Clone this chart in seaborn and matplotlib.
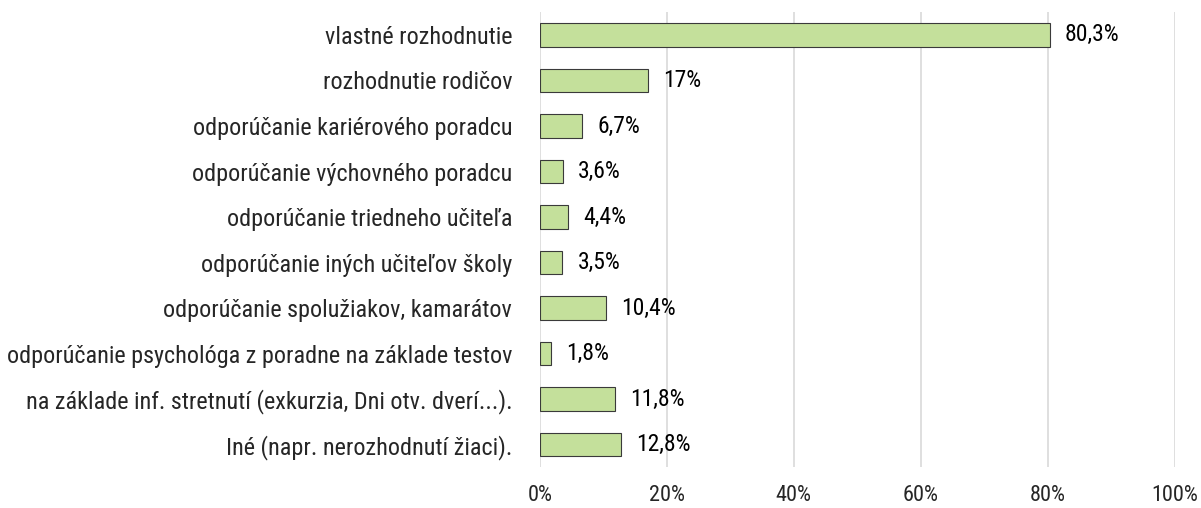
import pandas as pd
import matplotlib.pyplot as plt
import seaborn as sns
from matplotlib.ticker import PercentFormatter

# Categories and values
categories = [
    "vlastné rozhodnutie",
    "rozhodnutie rodičov",
    "odporúčanie kariérového poradcu",
    "odporúčanie výchovného poradcu",
    "odporúčanie triedneho učiteľa",
    "odporúčanie iných učiteľov školy",
    "odporúčanie spolužiakov, kamarátov",
    "odporúčanie psychológa z poradne na základe testov",
    "na základe inf. stretnutí (exkurzia, Dni otv. dverí...).",
    "Iné (napr. nerozhodnutí žiaci).",
]
values = [80.3, 17, 6.7, 3.6, 4.4, 3.5, 10.4, 1.8, 11.8, 12.8]
value_labels = ["80,3%", "17%", "6,7%", "3,6%", "4,4%", "3,5%", "10,4%", "1,8%", "11,8%", "12,8%"]

df = pd.DataFrame({"category": categories, "value": values})

sns.set_style("white")
plt.rcParams['font.family'] = ['Roboto Condensed', 'Roboto', 'DejaVu Sans']

fig = plt.figure(figsize=(12.01, 5.08), dpi=100)
ax = fig.add_axes([0.4496, 0.08, 0.5284, 0.896])

sns.barplot(data=df, x="value", y="category", color="#c4e09b", saturation=1,
            edgecolor="#3a3a3a", linewidth=0.8, width=0.52, ax=ax, zorder=3)

for i, (v, lab) in enumerate(zip(values, value_labels)):
    ax.text(v + 2.4, i, lab, va="center", ha="left", fontsize=17, color="black")

ax.set_xlim(0, 100)
ax.set_xticks([0, 20, 40, 60, 80, 100])
ax.xaxis.set_major_formatter(PercentFormatter(decimals=0))
ax.grid(axis="x", color="#d9d9d9", linewidth=1.2, zorder=0)
ax.grid(axis="y", visible=False)
for s in ax.spines.values():
    s.set_visible(False)
ax.tick_params(axis="x", length=0, pad=13, labelsize=16)
ax.tick_params(axis="y", length=0, pad=20, labelsize=17.4)
ax.set_xlabel("")
ax.set_ylabel("")

fig.savefig("out.png", dpi=100)
